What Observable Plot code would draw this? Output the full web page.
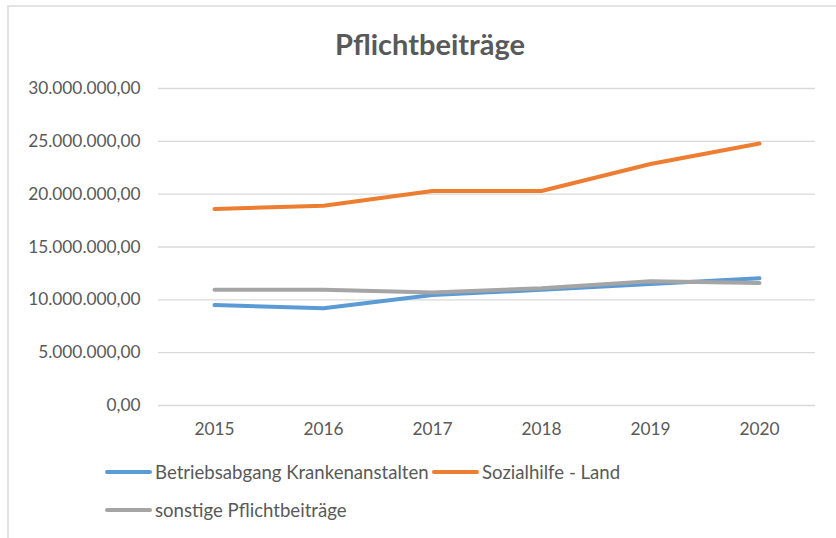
<!DOCTYPE html>
<html>
<head>
<meta charset="utf-8">
<script src="https://cdn.jsdelivr.net/npm/d3@7"></script>
<script src="https://cdn.jsdelivr.net/npm/@observablehq/plot@0.6"></script>
<style>
  html, body { margin: 0; padding: 0; background: #fff; }
  #chart { position: relative; width: 836px; height: 538px; overflow: hidden; font-family: Lato, "Open Sans", sans-serif; color: #595959; }
  #frame { position: absolute; left: 7px; top: 5px; width: 840px; height: 540px; border-top: 2px solid #e3e3e3; border-left: 2px solid #e3e3e3; }
  #title { position: absolute; left: 0; width: 860px; top: 26px; text-align: center; font-weight: bold; font-size: 29px; color: #595959; }
  #plot { position: absolute; left: 0; top: 70px; }
  .leg { position: absolute; font-size: 18.6px; color: #595959; white-space: nowrap; display: flex; align-items: center; }
  .sw { display: inline-block; width: 47px; height: 4px; border-radius: 2px; margin-right: 3px; }
</style>
</head>
<body>
<div id="chart">
  <div id="frame"></div>
  <div id="title">Pflichtbeiträge</div>
  <div id="plot"></div>
  <div id="legend"></div>
</div>
<script>
const years = ["2015", "2016", "2017", "2018", "2019", "2020"];
const seriesNames = ["Betriebsabgang Krankenanstalten", "Sozialhilfe - Land", "sonstige Pflichtbeiträge"];
const seriesColors = ["#5B9BD5", "#ED7D31", "#A5A5A5"];
const betriebsabgang = [9500000, 9200000, 10450000, 10950000, 11500000, 12050000];
const sozialhilfe = [18600000, 18900000, 20300000, 20300000, 22850000, 24800000];
const sonstige = [10950000, 10950000, 10700000, 11100000, 11750000, 11600000];
const yTicks = [0, 5000000, 10000000, 15000000, 20000000, 25000000, 30000000];

const allValues = [betriebsabgang, sozialhilfe, sonstige];
const data = [];
seriesNames.forEach((name, i) => {
  years.forEach((yr, j) => data.push({series: name, year: yr, value: allValues[i][j]}));
});

const de = d3.formatLocale({decimal: ",", thousands: ".", grouping: [3], currency: ["", " €"]});
const fmt = de.format(",.2f");

const plot = Plot.plot({
  width: 836,
  height: 375,
  marginLeft: 158,
  marginRight: 21,
  marginTop: 18,
  marginBottom: 40,
  style: {fontFamily: "Lato, 'Open Sans', sans-serif", fontSize: "17px", color: "#595959", background: "transparent"},
  x: {type: "point", domain: years, padding: 0.5, label: null},
  y: {domain: [0, 30000000], ticks: yTicks, label: null},
  color: {domain: seriesNames, range: seriesColors},
  marks: [
    Plot.gridY(yTicks, {stroke: "#d9d9d9", strokeOpacity: 1, strokeWidth: 1.3}),
    Plot.axisY(yTicks, {tickSize: 0, tickPadding: 18, tickFormat: fmt, fill: "#595959", fontSize: 17.3}),
    Plot.axisX({tickSize: 0, tickPadding: 17, fill: "#595959", fontSize: 17.3}),
    Plot.line(data, {x: "year", y: "value", z: "series", stroke: "series", strokeWidth: 4, strokeLinejoin: "round", strokeLinecap: "round"})
  ]
});
document.getElementById("plot").appendChild(plot);

const legendPos = [{left: 105, top: 461}, {left: 432, top: 461}, {left: 105, top: 499}];
const legend = document.getElementById("legend");
seriesNames.forEach((name, i) => {
  const d = document.createElement("div");
  d.className = "leg";
  d.style.left = legendPos[i].left + "px";
  d.style.top = legendPos[i].top + "px";
  d.innerHTML = `<span class="sw" style="background:${seriesColors[i]}"></span><span>${name}</span>`;
  legend.appendChild(d);
});
</script>
</body>
</html>
